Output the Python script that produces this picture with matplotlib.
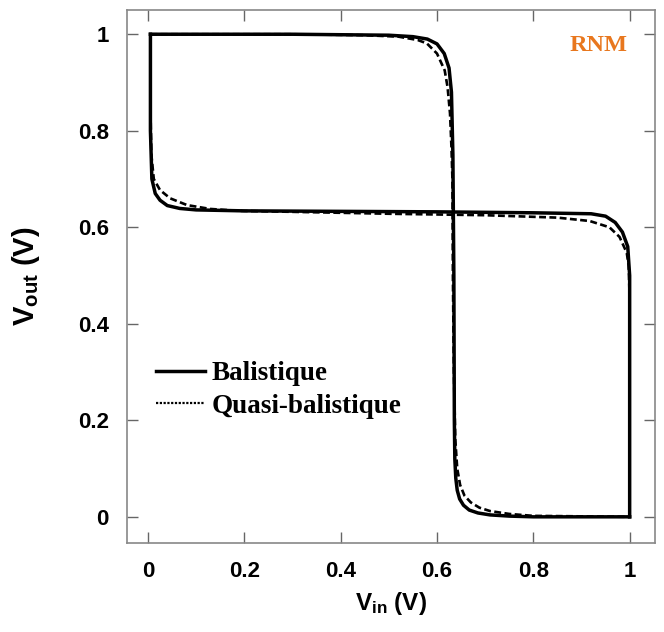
import matplotlib
matplotlib.use('Agg')
import matplotlib.pyplot as plt
from matplotlib.lines import Line2D

plt.rcParams['font.family'] = 'Liberation Sans'
plt.rcParams['mathtext.fontset'] = 'custom'
plt.rcParams['mathtext.rm'] = 'Liberation Sans:bold'
plt.rcParams['mathtext.it'] = 'Liberation Sans:bold'
plt.rcParams['mathtext.bf'] = 'Liberation Sans:bold'

# Balistique: Vout = f(Vin)
bal_vin = [0.005, 0.1, 0.3, 0.5, 0.55, 0.58, 0.6, 0.615, 0.625, 0.63, 0.633,
           0.635, 0.636, 0.637, 0.639, 0.642, 0.647, 0.655, 0.667, 0.685,
           0.71, 0.75, 0.8, 1.0]
bal_vout = [1.0, 1.0, 1.0, 0.998, 0.995, 0.99, 0.98, 0.96, 0.93, 0.88, 0.75,
            0.5, 0.2, 0.12, 0.08, 0.055, 0.037, 0.024, 0.014, 0.008,
            0.004, 0.0015, 0.0, 0.0]
# Balistique: mirrored inverter, Vin as function of Vout
bal2_vin = [1.0, 1.0, 1.0, 0.996, 0.985, 0.97, 0.95, 0.92, 0.8, 0.6, 0.4,
            0.2, 0.1, 0.066, 0.04, 0.025, 0.015, 0.008, 0.005, 0.005]
bal2_vout = [0.0, 0.3, 0.5, 0.56, 0.59, 0.61, 0.623, 0.628, 0.63, 0.632, 0.633,
             0.634, 0.636, 0.639, 0.645, 0.656, 0.67, 0.7, 0.8, 1.0]

# Quasi-balistique
qb_vin = [0.005, 0.3, 0.45, 0.52, 0.56, 0.579, 0.6, 0.616, 0.622, 0.627, 0.63,
          0.632, 0.633, 0.635, 0.638, 0.642, 0.648, 0.657, 0.67, 0.688,
          0.71, 0.75, 0.8, 1.0]
qb_vout = [1.0, 1.0, 0.998, 0.995, 0.988, 0.981, 0.96, 0.925, 0.89, 0.836, 0.766,
           0.7, 0.5, 0.3, 0.16, 0.1, 0.066, 0.044, 0.03, 0.019,
           0.012, 0.006, 0.002, 0.0]
qb2_vin = [1.0, 1.0, 0.998, 0.994, 0.979, 0.958, 0.917, 0.85, 0.7, 0.5, 0.3,
           0.19, 0.129, 0.081, 0.046, 0.025, 0.012, 0.007, 0.005, 0.005]
qb2_vout = [0.0, 0.45, 0.52, 0.547, 0.58, 0.6, 0.613, 0.62, 0.625, 0.628, 0.632,
            0.634, 0.638, 0.646, 0.66, 0.677, 0.7, 0.75, 0.85, 1.0]

ticks = [0, 0.2, 0.4, 0.6, 0.8, 1]
tick_labels = ['0', '0.2', '0.4', '0.6', '0.8', '1']

fig = plt.figure(figsize=(6.64, 6.32), dpi=100)
ax = fig.add_axes([0.191, 0.141, 0.795, 0.843])

dash = (0, (2.6, 1.3))
ax.plot(bal_vin, bal_vout, color='black', lw=2.5, solid_joinstyle='round')
ax.plot(bal2_vin, bal2_vout, color='black', lw=2.5, solid_joinstyle='round')
ax.plot(qb_vin, qb_vout, color='black', lw=1.9, linestyle=dash)
ax.plot(qb2_vin, qb2_vout, color='black', lw=1.9, linestyle=dash)

ax.set_xlim(-0.044, 1.052)
ax.set_ylim(-0.054, 1.05)
ax.set_xticks(ticks)
ax.set_xticklabels(tick_labels)
ax.set_yticks(ticks)
ax.set_yticklabels(tick_labels)
ax.tick_params(direction='in', length=8, width=1, color='#666666',
               top=True, right=True, labelsize=16, pad=13)
for lbl in ax.get_xticklabels() + ax.get_yticklabels():
    lbl.set_fontweight('bold')
for sp in ax.spines.values():
    sp.set_color('#888888')
    sp.set_linewidth(1.2)

ax.set_xlabel(r'$\mathregular{V_{in}}$ (V)', fontsize=17.5, fontweight='bold', labelpad=6)
ax.set_ylabel(r'$\mathregular{V_{out}}$ (V)', fontsize=21, fontweight='bold', labelpad=26)

ax.text(0.949, 0.934, 'RNM', transform=ax.transAxes, ha='right', va='center',
        color='#E8771E', fontsize=17.5, fontweight='bold', family='Liberation Serif')

handles = [Line2D([], [], color='black', lw=2.5),
           Line2D([], [], color='black', lw=1.6, linestyle=(0, (1, 0.7)))]
ax.legend(handles, ['Balistique', 'Quasi-balistique'], loc='upper left',
          bbox_to_anchor=(0.055, 0.341), frameon=False, borderpad=0,
          borderaxespad=0, handlelength=1.8, handletextpad=0.25,
          labelspacing=0.27,
          prop={'family': 'Liberation Serif', 'weight': 'bold', 'size': 19.5})

fig.savefig('out.png', dpi=100)
